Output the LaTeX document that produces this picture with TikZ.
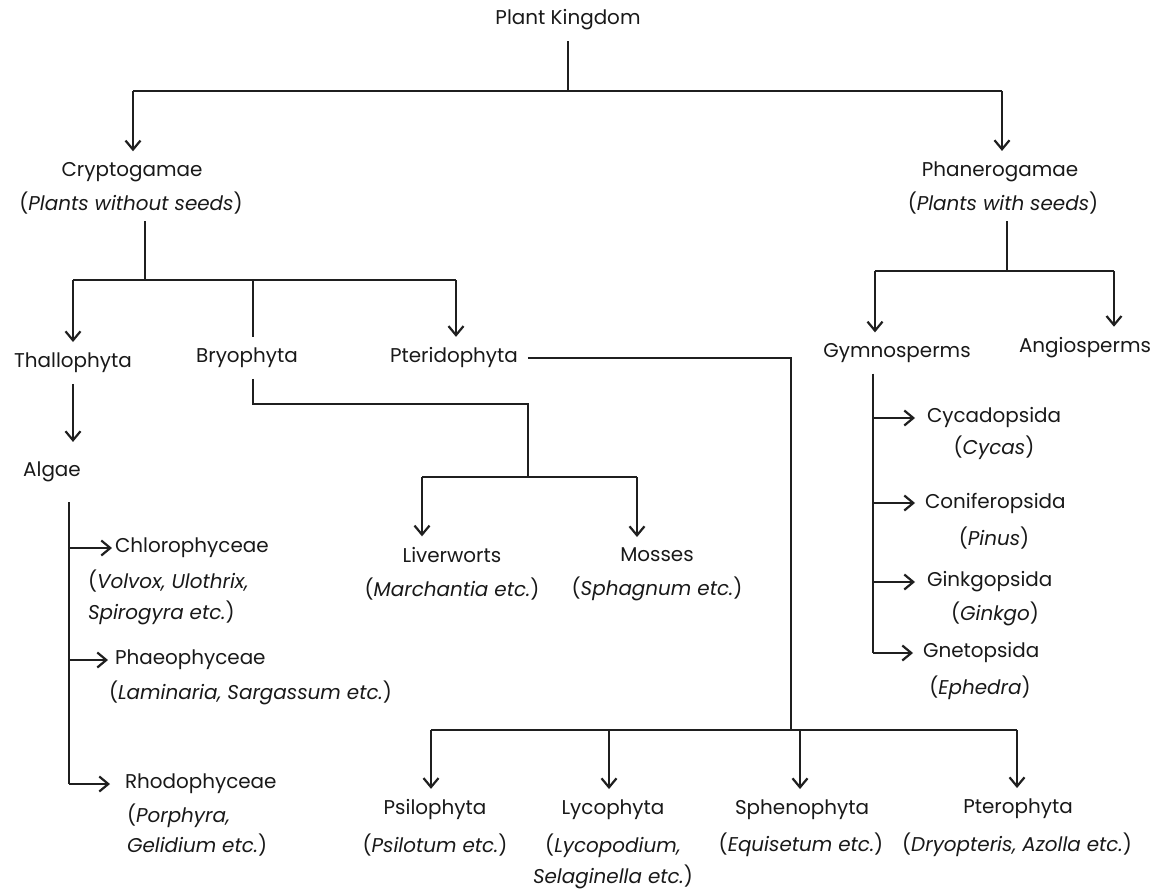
\documentclass[tikz,border=0pt]{standalone}
\usepackage{fontspec}
\setmainfont{Poppins}
\usetikzlibrary{arrows.meta}
\begin{document}
\begin{tikzpicture}[x=1bp,y=-1bp,
  ln/.style={line width=2.2bp, draw=black!88},
  arr/.style={ln, -{Straight Barb[length=9bp,width=15bp]}},
  ttl/.style={inner sep=0pt, outer xsep=10bp, outer ysep=11bp, font=\fontsize{20}{24}\selectfont, text=black!90},
  sub/.style={inner sep=0pt, outer xsep=0pt, outer ysep=7bp, font=\fontsize{20}{31}\selectfont, text=black!90},
]
\fill[white] (0,0) rectangle (1158,892);
\useasboundingbox (0,0) rectangle (1158,892);

% ---------- nodes ----------
\node[ttl] (pk) at (568,20) {Plant Kingdom};
\node[ttl] (cry) at (132,172) {Cryptogamae};
\node[sub] (cryx) at (131,203) {(\textit{Plants without seeds})};
\node[ttl] (pha) at (1000,172) {Phanerogamae};
\node[sub] (phax) at (1003,203) {(\textit{Plants with seeds})};

\node[ttl] (tha) at (73,363) {Thallophyta};
\node[ttl] (bry) at (247,358) {Bryophyta};
\node[ttl] (pte) at (454,358) {Pteridophyta};
\node[ttl, outer ysep=20bp] (alg) at (52,472) {Algae};

\node[ttl, anchor=west, outer xsep=3bp] (chl) at (112,548) {Chlorophyceae};
\node[sub, anchor=west, align=left] (chlx) at (88,597) {(\textit{Volvox, Ulothrix,}\\\textit{Spirogyra etc.})};
\node[ttl, anchor=west, outer xsep=7bp] (pho) at (108,660) {Phaeophyceae};
\node[sub, anchor=west] (phox) at (109,693) {(\textit{Laminaria, Sargassum etc.})};
\node[ttl, anchor=west, outer xsep=15bp] (rho) at (110,784) {Rhodophyceae};
\node[sub, anchor=west, align=left] (rhox) at (127,830) {(\textit{Porphyra,}\\\textit{Gelidium etc.})};

\node[ttl] (liv) at (452,555) {Liverworts};
\node[sub] (livx) at (452,589) {(\textit{Marchantia etc.})};
\node[ttl] (mos) at (657,555) {Mosses};
\node[sub] (mosx) at (657,589) {(\textit{Sphagnum etc.})};

\node[ttl] (psi) at (435,810) {Psilophyta};
\node[sub] (psix) at (435,845) {(\textit{Psilotum etc.})};
\node[ttl] (lyc) at (613,810) {Lycophyta};
\node[sub, align=center] (lycx) at (613,861) {(\textit{Lycopodium,}\\\textit{Selaginella etc.})};
\node[ttl] (sph) at (802,810) {Sphenophyta};
\node[sub] (sphx) at (801,845) {(\textit{Equisetum etc.})};
\node[ttl] (ptr) at (1018,809) {Pterophyta};
\node[sub] (ptrx) at (1017,845) {(\textit{Dryopteris, Azolla etc.})};

\node[ttl] (gym) at (897,353) {Gymnosperms};
\node[ttl] (ang) at (1085,348) {Angiosperms};
\node[ttl, anchor=west, outer xsep=12bp] (cyc) at (915,418) {Cycadopsida};
\node[sub] (cycx) at (994,448) {(\textit{Cycas})};
\node[ttl, anchor=west, outer xsep=10bp] (con) at (915,503) {Coniferopsida};
\node[sub] (conx) at (994,538) {(\textit{Pinus})};
\node[ttl, anchor=west, outer xsep=12bp] (gin) at (915,582) {Ginkgopsida};
\node[sub] (ginx) at (995,614) {(\textit{Ginkgo})};
\node[ttl, anchor=west, outer xsep=10bp] (gne) at (913,653) {Gnetopsida};
\node[sub] (gnex) at (980,688) {(\textit{Ephedra})};

% ---------- junction coordinates ----------
\coordinate (t0) at (568,91);
\coordinate (t1) at (133,91);
\coordinate (t2) at (1002,91);
\coordinate (c0) at (145,280);
\coordinate (c1) at (73,280);
\coordinate (c2) at (253,280);
\coordinate (c3) at (456,280);
\coordinate (a1) at (69,784);
\coordinate (b1) at (253,404);
\coordinate (b2) at (528,404);
\coordinate (b3) at (528,477);
\coordinate (b4) at (422,477);
\coordinate (b5) at (637,477);
\coordinate (p0) at (791,360);
\coordinate (p1) at (791,730);
\coordinate (p2) at (431,730);
\coordinate (p3) at (609,730);
\coordinate (p4) at (800,730);
\coordinate (p5) at (1017,730);
\coordinate (h0) at (1007,271);
\coordinate (h1) at (875,271);
\coordinate (h2) at (1114,271);
\coordinate (g0) at (873,653);

% ---------- connectors ----------
\draw[ln] (pk.south) -- (t0);
\draw[ln] (t1) -- (t2);
\draw[arr] (t1) -- (t1 |- cry.north);
\draw[arr] (t2) -- (t2 |- pha.north);

\draw[ln] (c0 |- cryx.south) -- (c0);
\draw[ln] (c1) -- (c3);
\draw[arr] (c1) -- (c1 |- tha.north);
\draw[ln] (c2) -- (c2 |- bry.north);
\draw[arr] (c3) -- (c3 |- pte.north);

\draw[arr] (tha.south) -- (tha.south |- alg.north);
\draw[ln] (a1 |- alg.south) -- (a1);
\draw[arr] (a1 |- chl.west) -- (chl.west);
\draw[arr] (a1 |- pho.west) -- (pho.west);
\draw[arr] (a1) -- (rho.west);

\draw[ln] (b1 |- bry.south) -- (b1) -- (b2) -- (b3);
\draw[ln] (b4) -- (b5);
\draw[arr] (b4) -- (b4 |- liv.north);
\draw[arr] (b5) -- (b5 |- mos.north);

\draw[ln] (pte.east) -- (pte.east -| p0) -- (p1);
\draw[ln] (p2) -- (p5);
\draw[arr] (p2) -- (p2 |- psi.north);
\draw[arr] (p3) -- (p3 |- lyc.north);
\draw[arr] (p4) -- (p4 |- sph.north);
\draw[arr] (p5) -- (p5 |- ptr.north);

\draw[ln] (h0 |- phax.south) -- (h0);
\draw[ln] (h1) -- (h2);
\draw[arr] (h1) -- (h1 |- gym.north);
\draw[arr] (h2) -- (h2 |- ang.north);
\draw[ln] (g0 |- gym.south) -- (g0);
\draw[arr] (g0 |- cyc.west) -- (cyc.west);
\draw[arr] (g0 |- con.west) -- (con.west);
\draw[arr] (g0 |- gin.west) -- (gin.west);
\draw[arr] (g0) -- (gne.west);
\end{tikzpicture}
\end{document}
